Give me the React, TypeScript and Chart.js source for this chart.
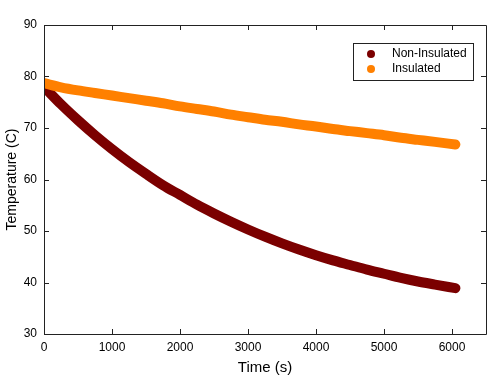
import React, { useEffect, useRef } from "react";
import { Chart, registerables } from "chart.js";

Chart.register(...registerables);

const times = [0, 250, 500, 750, 1000, 1250, 1500, 1750, 2000, 2250, 2500, 2750, 3000, 3250, 3500, 3750, 4000, 4250, 4500, 4750, 5000, 5250, 5500, 5750, 6050];
const nonInsulated = [78.0, 74.6, 71.5, 68.6, 65.9, 63.4, 61.1, 58.9, 57.0, 55.1, 53.4, 51.8, 50.3, 48.9, 47.6, 46.4, 45.3, 44.3, 43.4, 42.5, 41.7, 40.9, 40.2, 39.6, 38.9];
const insulated = [78.7, 77.9, 77.3, 76.8, 76.3, 75.8, 75.3, 74.8, 74.2, 73.7, 73.2, 72.6, 72.1, 71.6, 71.2, 70.7, 70.3, 69.8, 69.4, 69.0, 68.6, 68.1, 67.7, 67.3, 66.8];
const xTickValues = [0, 1000, 2000, 3000, 4000, 5000, 6000];
const yTickValues = [30, 40, 50, 60, 70, 80, 90];
const seriesNames = ["Non-Insulated", "Insulated"];
const seriesColors = ["#7b0000", "#ff8000"];

const FONT = "'Liberation Sans', Arial, sans-serif";

const framePlugin = {
  id: "frameAndLegend",
  afterDraw(chart: any) {
    const ctx = chart.ctx;
    const { left, right, top, bottom } = chart.chartArea;
    const xs = chart.scales.x;
    const ys = chart.scales.y;
    ctx.save();
    ctx.strokeStyle = "#222";
    ctx.lineWidth = 1;
    ctx.beginPath();
    ctx.rect(Math.round(left) + 0.5, Math.round(top) + 0.5, Math.round(right - left), Math.round(bottom - top));
    ctx.stroke();
    const tl = 5;
    ctx.beginPath();
    xTickValues.forEach((v) => {
      const px = Math.round(xs.getPixelForValue(v)) + 0.5;
      ctx.moveTo(px, bottom);
      ctx.lineTo(px, bottom - tl);
      ctx.moveTo(px, top);
      ctx.lineTo(px, top + tl);
    });
    yTickValues.forEach((v) => {
      const py = Math.round(ys.getPixelForValue(v)) + 0.5;
      ctx.moveTo(left, py);
      ctx.lineTo(left + tl, py);
      ctx.moveTo(right, py);
      ctx.lineTo(right - tl, py);
    });
    ctx.stroke();

    // legend
    const bx = 353.5, by = 43.5, bw = 120, bh = 37;
    ctx.fillStyle = "#fff";
    ctx.fillRect(bx, by, bw, bh);
    ctx.strokeStyle = "#222";
    ctx.strokeRect(bx, by, bw, bh);
    ctx.font = `12px ${FONT}`;
    ctx.textBaseline = "middle";
    ctx.textAlign = "left";
    chart.data.datasets.forEach((ds: any, i: number) => {
      const cy = 54 + i * 15;
      ctx.fillStyle = ds.borderColor;
      ctx.beginPath();
      ctx.arc(371, cy, 4, 0, Math.PI * 2);
      ctx.fill();
      ctx.fillStyle = "#000";
      ctx.fillText(ds.label, 392, cy);
    });
    ctx.restore();
  },
};

export default function App() {
  const ref = useRef<HTMLCanvasElement>(null);
  useEffect(() => {
    const canvas = ref.current!;
    const chart = new Chart(canvas, {
      type: "scatter",
      data: {
        datasets: [
          {
            label: seriesNames[0],
            data: times.map((t, i) => ({ x: t, y: nonInsulated[i] })),
            borderColor: seriesColors[0],
            backgroundColor: seriesColors[0],
            showLine: true,
            borderWidth: 10,
            borderCapStyle: "round",
            borderJoinStyle: "round",
            cubicInterpolationMode: "monotone",
            pointRadius: 0,
            order: 1,
          },
          {
            label: seriesNames[1],
            data: times.map((t, i) => ({ x: t, y: insulated[i] })),
            borderColor: seriesColors[1],
            backgroundColor: seriesColors[1],
            showLine: true,
            borderWidth: 10,
            borderCapStyle: "round",
            borderJoinStyle: "round",
            cubicInterpolationMode: "monotone",
            pointRadius: 0,
            order: 0,
          },
        ],
      },
      options: {
        animation: false,
        responsive: false,
        maintainAspectRatio: false,
        layout: { padding: { top: 25, right: 14, left: 0, bottom: 0 } },
        plugins: { legend: { display: false }, tooltip: { enabled: false } },
        scales: {
          x: {
            type: "linear",
            min: 0,
            max: 6500,
            grid: { display: false, drawTicks: false },
            border: { display: false },
            afterBuildTicks: (s: any) => {
              s.ticks = xTickValues.map((v) => ({ value: v }));
            },
            afterFit: (s: any) => {
              s.height = 45;
            },
            ticks: { color: "#000", font: { family: FONT, size: 12 }, padding: 6, maxRotation: 0, callback: (v: any) => String(v) },
            title: { display: true, text: "Time (s)", color: "#000", font: { family: FONT, size: 15 }, padding: { top: 0, bottom: 2 } },
          },
          y: {
            type: "linear",
            min: 30,
            max: 90,
            grid: { display: false, drawTicks: false },
            border: { display: false },
            afterBuildTicks: (s: any) => {
              s.ticks = yTickValues.map((v) => ({ value: v }));
            },
            afterFit: (s: any) => {
              s.width = 44;
            },
            ticks: { color: "#000", font: { family: FONT, size: 12 }, padding: 7, callback: (v: any) => String(v) },
            title: { display: true, text: "Temperature (C)", color: "#000", font: { family: FONT, size: 14 }, padding: { top: 4, bottom: 0 } },
          },
        },
      },
      plugins: [framePlugin],
    } as any);
    return () => chart.destroy();
  }, []);
  return (
    <div style={{ position: "absolute", left: 0, top: 0, width: 500, height: 379 }}>
      <canvas ref={ref} width={500} height={379} style={{ width: 500, height: 379 }} />
    </div>
  );
}
